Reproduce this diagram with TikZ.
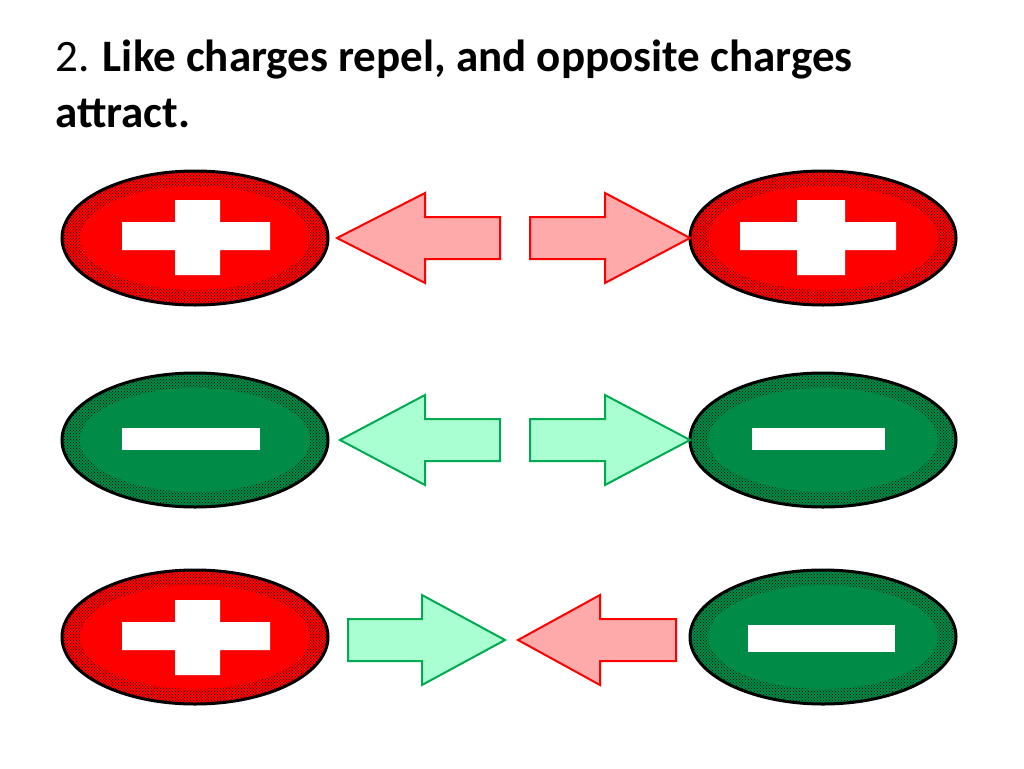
\documentclass[tikz,border=0pt]{standalone}
\usepackage{fontspec}
\setmainfont{Carlito}
\usetikzlibrary{patterns}
\definecolor{posred}{RGB}{255,0,0}
\definecolor{neggreen}{RGB}{0,140,70}
\definecolor{pinkfill}{RGB}{255,170,170}
\definecolor{mintfill}{RGB}{170,255,210}
\definecolor{mintline}{RGB}{0,170,80}
\tikzset{
    % charged bodies
    charge/.style={line width=3pt,draw=black},
    speckle/.style={pattern=crosshatch dots,pattern color=black,even odd rule},
    sign/.style={fill=white,draw=none},
    % force arrows
    redarrow/.style={fill=pinkfill,draw=posred,line width=2pt},
    greenarrow/.style={fill=mintfill,draw=mintline,line width=2pt},
}
% body: name, x, y, fill
\newcommand{\body}[4]{%
  \coordinate (#1) at (#2,#3);
  \fill[#4] (#1) ellipse [x radius=133,y radius=67];
  \fill[speckle] (#1) ellipse [x radius=133,y radius=67] (#1) ellipse [x radius=115,y radius=52];
  \draw[charge] (#1) ellipse [x radius=133,y radius=67];
}
% arrow: style, tip x, head back x, tail x, y
\newcommand{\force}[5]{%
  \draw[#1] (#2,#5) -- (#3,#5-45) -- (#3,#5-21) -- (#4,#5-21)
    -- (#4,#5+21) -- (#3,#5+21) -- (#3,#5+45) -- cycle;
}
\begin{document}
\begin{tikzpicture}[x=1pt,y=-1pt]
  \useasboundingbox (0,0) rectangle (1024,768);
  \node (title) [anchor=north west,align=left,font=\fontsize{45}{56}\selectfont,inner sep=0] at (55,40)
    {2. \textbf{Like charges repel, and opposite charges}\\\textbf{attract.}};

  % row 1
  \body{pa}{195}{238}{posred}
  \body{pb}{823}{238}{posred}
  \fill[sign] (122,222) rectangle (270,250) (175,200) rectangle (220,275);
  \fill[sign] (740,222) rectangle (896,250) (797,200) rectangle (845,275);
  \force{redarrow}{337}{425}{500}{238}
  \force{redarrow}{690}{605}{530}{238}

  % row 2
  \body{na}{195}{440}{neggreen}
  \body{nb}{823}{440}{neggreen}
  \fill[sign] (122,428) rectangle (260,450);
  \fill[sign] (752,428) rectangle (885,450);
  \force{greenarrow}{340}{425}{500}{440}
  \force{greenarrow}{690}{605}{530}{440}

  % row 3
  \body{pc}{195}{637}{posred}
  \body{nc}{823}{637}{neggreen}
  \fill[sign] (122,622) rectangle (270,650) (175,600) rectangle (220,675);
  \fill[sign] (748,625) rectangle (895,652);
  \force{greenarrow}{505}{422}{348}{640}
  \force{redarrow}{518}{600}{676}{640}
\end{tikzpicture}
\end{document}
